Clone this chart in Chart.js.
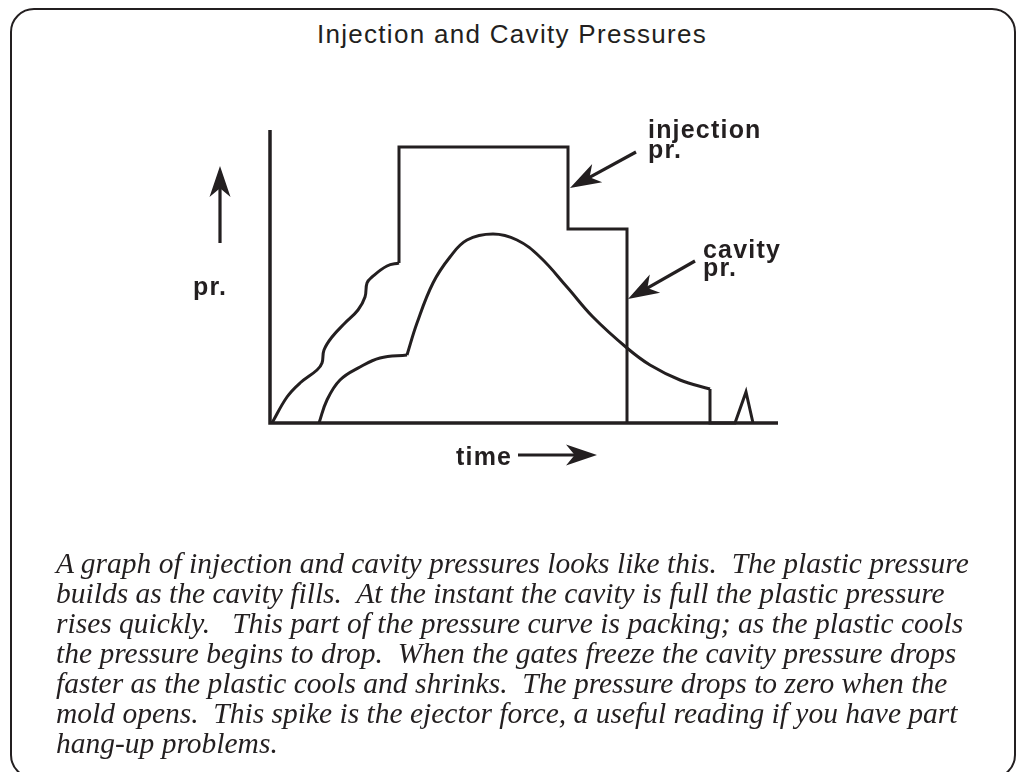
<!DOCTYPE html>
<html><head><meta charset="utf-8">
<script src="https://cdn.jsdelivr.net/npm/chart.js@4"></script>
<style>
html,body{margin:0;padding:0;background:#fff;width:1016px;height:772px;overflow:hidden;}
body{position:relative;}
#frame{position:absolute;left:9.5px;top:7.5px;width:1006px;height:771px;border:2.5px solid #231f20;border-radius:24px;box-sizing:border-box;}
#title{position:absolute;left:0;width:1024px;top:19px;line-height:30px;text-align:center;font-family:"Liberation Sans",Arial,sans-serif;font-size:26px;letter-spacing:1.3px;color:#231f20;}
#chart{position:absolute;left:0;top:0;}
#caption{position:absolute;left:56px;top:548px;font-family:"Liberation Serif","Times New Roman",serif;font-style:italic;font-size:29.5px;line-height:30px;white-space:pre;color:#231f20;}
</style>
</head><body>
<div id="frame"></div>
<div id="title">Injection and Cavity Pressures</div>
<canvas id="chart" width="1016" height="772"></canvas>
<div id="caption">A graph of injection and cavity pressures looks like this.  The plastic pressure
builds as the cavity fills.  At the instant the cavity is full the plastic pressure
rises quickly.   This part of the pressure curve is packing; as the plastic cools
the pressure begins to drop.  When the gates freeze the cavity pressure drops
faster as the plastic cools and shrinks.  The pressure drops to zero when the
mold opens.  This spike is the ejector force, a useful reading if you have part
hang-up problems.</div>
<script>
// ---- data (arbitrary time / pressure units) ----
const injRiseT = [2, 17, 30, 47, 52, 54, 62, 75, 88, 95, 97, 102, 117, 129];
const injRiseP = [0, 26, 40, 53, 60, 73, 86, 100, 113, 126, 140, 146, 157, 160];
const injHoldT = [129, 129, 298, 298, 357, 357];
const injHoldP = [160, 276, 276, 194, 194, 0];
const cavFillT = [49, 57, 70, 90, 110, 137];
const cavFillP = [0, 23, 43, 56, 65, 68];
const cavPackT = [137, 147, 163, 180, 197, 223, 247, 270, 297, 323, 357, 380, 410, 440];
const cavPackP = [68, 100, 140, 166, 183, 189, 183, 166, 136, 106, 75, 58, 43, 34];
const cavEndT = [440, 440, 465, 476, 483];
const cavEndP = [34, 0, 0, 31, 0];

// annotation labels & arrows (in data units)
const labelTexts = ['injection', 'pr.', 'cavity', 'pr.', 'pr.', 'time'];
const labelT = [378, 378, 433, 433, -77, 186];
const labelP = [285, 265, 165, 147, 128, -42];
const arrowFromT = [366, 425, -50, 248];
const arrowFromP = [271, 162, 180, -32];
const arrowToT = [300, 358, -50, 327];
const arrowToP = [235, 124, 257, -32];

const INK = '#231f20';
function pts(t, p){ return t.map((v,i)=>({x:v, y:p[i]})); }
function ds(t, p, tension){
  return {data: pts(t,p), borderColor: INK, borderWidth: 3, pointRadius: 0, fill: false,
          tension: tension, clip: false, borderJoinStyle: 'miter'};
}

function arrow(ctx, x0, y0, x1, y1){
  const L = 31, W = 10.5;
  const dx = x1-x0, dy = y1-y0, len = Math.hypot(dx,dy);
  const ux = dx/len, uy = dy/len, nx = -uy, ny = ux;
  ctx.beginPath();
  ctx.moveTo(x0,y0);
  ctx.lineTo(x1-ux*L*0.7, y1-uy*L*0.7);
  ctx.lineWidth = 3.2; ctx.strokeStyle = INK; ctx.stroke();
  ctx.beginPath();
  ctx.moveTo(x1,y1);
  ctx.lineTo(x1-ux*L+nx*W, y1-uy*L+ny*W);
  ctx.lineTo(x1-ux*L*0.72, y1-uy*L*0.72);
  ctx.lineTo(x1-ux*L-nx*W, y1-uy*L-ny*W);
  ctx.closePath();
  ctx.fillStyle = INK; ctx.fill();
}

const decor = {
  id: 'decor',
  afterDraw(chart){
    const ctx = chart.ctx, xs = chart.scales.x, ys = chart.scales.y;
    const X = v => xs.getPixelForValue(v), Y = v => ys.getPixelForValue(v);
    ctx.save();
    // axes
    ctx.strokeStyle = INK; ctx.lineWidth = 3.5; ctx.lineCap = 'butt';
    ctx.beginPath();
    ctx.moveTo(X(0), Y(ys.max));
    ctx.lineTo(X(0), Y(0));
    ctx.lineTo(X(xs.max), Y(0));
    ctx.stroke();
    // arrows
    for (let i = 0; i < arrowFromT.length; i++)
      arrow(ctx, X(arrowFromT[i]), Y(arrowFromP[i]), X(arrowToT[i]), Y(arrowToP[i]));
    // labels
    ctx.fillStyle = INK;
    ctx.font = 'bold 25px "Liberation Sans", Arial, sans-serif';
    ctx.letterSpacing = '1.2px';
    ctx.textBaseline = 'alphabetic'; ctx.textAlign = 'left';
    for (let i = 0; i < labelTexts.length; i++)
      ctx.fillText(labelTexts[i], X(labelT[i]), Y(labelP[i]));
    ctx.restore();
  }
};

new Chart(document.getElementById('chart'), {
  type: 'line',
  data: { datasets: [
    ds(injRiseT, injRiseP, 0.4),
    ds(injHoldT, injHoldP, 0),
    ds(cavFillT, cavFillP, 0.4),
    ds(cavPackT, cavPackP, 0.4),
    ds(cavEndT, cavEndP, 0)
  ]},
  options: {
    responsive: false, animation: false, devicePixelRatio: 1,
    layout: { padding: { left: 270, right: 238, top: 130, bottom: 349 } },
    scales: {
      x: { type: 'linear', min: 0, max: 508, display: false },
      y: { type: 'linear', min: 0, max: 293, display: false }
    },
    plugins: { legend: { display: false }, tooltip: { enabled: false }, title: { display: false } },
    events: []
  },
  plugins: [decor]
});
</script>
</body></html>
